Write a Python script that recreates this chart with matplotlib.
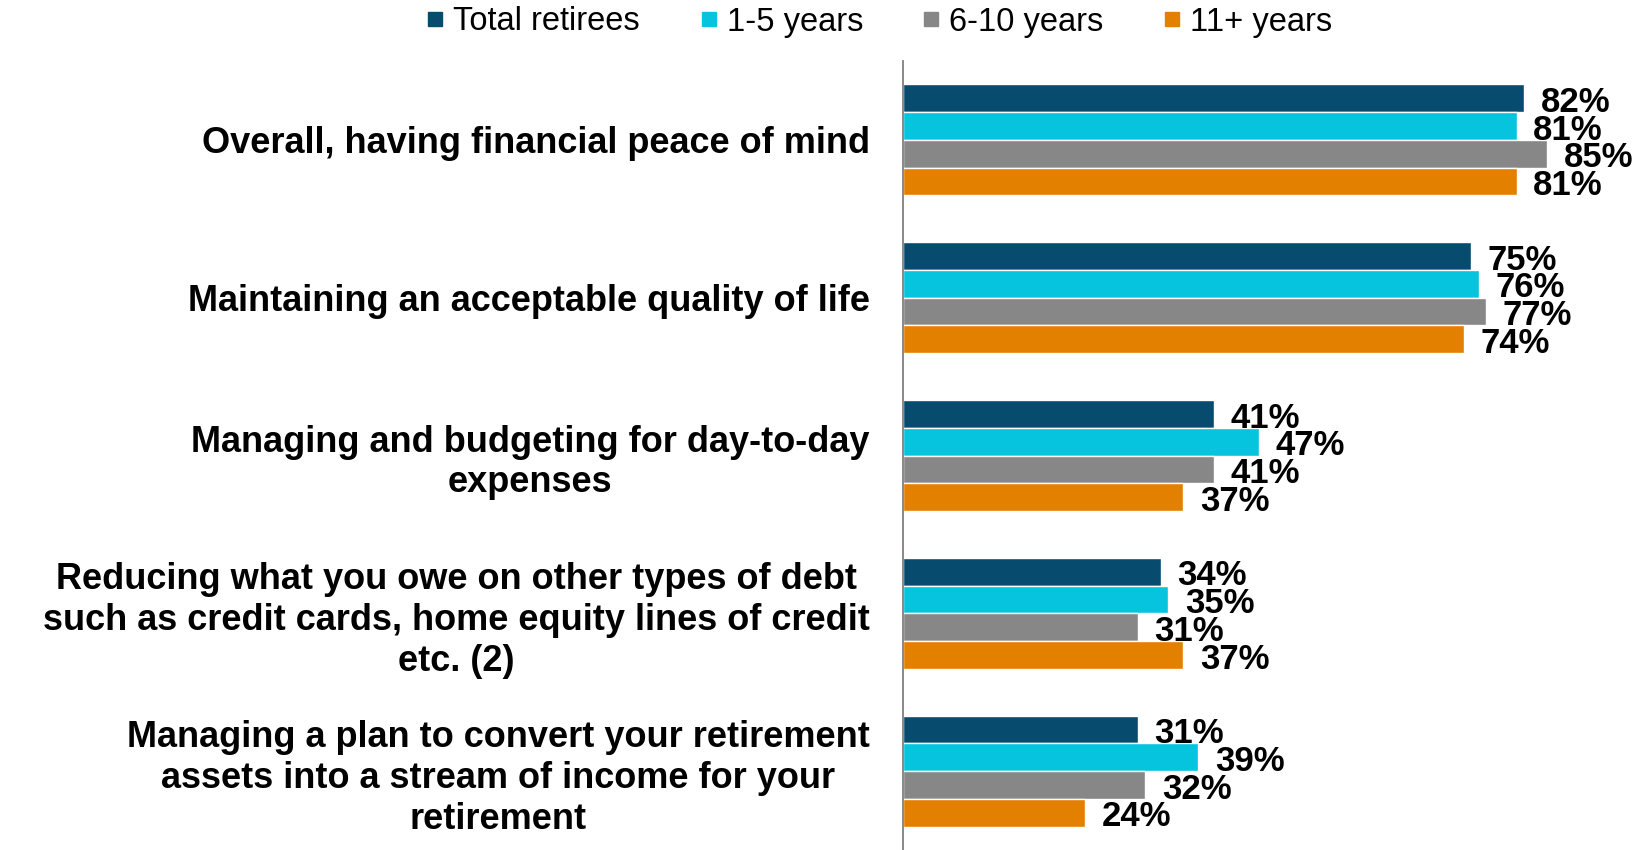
import matplotlib.pyplot as plt
import numpy as np

plt.rcParams["font.family"] = ["Liberation Sans", "DejaVu Sans"]

CATEGORIES = [
    "Overall, having financial peace of mind",
    "Maintaining an acceptable quality of life",
    "Managing and budgeting for day-to-day\nexpenses",
    "Reducing what you owe on other types of debt\nsuch as credit cards, home equity lines of credit\netc. (2)",
    "Managing a plan to convert your retirement\nassets into a stream of income for your\nretirement",
]
SERIES = ["Total retirees", "1-5 years", "6-10 years", "11+ years"]
TOTAL = [82, 75, 41, 34, 31]
YEARS_1_5 = [81, 76, 47, 35, 39]
YEARS_6_10 = [85, 77, 41, 31, 32]
YEARS_11P = [81, 74, 37, 37, 24]
COLORS = ["#074C6E", "#06C3DE", "#878787", "#E38000"]

values = [TOTAL, YEARS_1_5, YEARS_6_10, YEARS_11P]

fig = plt.figure(figsize=(16.4, 8.5), dpi=100)
ax = fig.add_axes([903 / 1640, 0.0, 1 - 903 / 1640, 1 - 61 / 850])

y = np.arange(len(CATEGORIES))
h = 0.176
for i, (name, vals, col) in enumerate(zip(SERIES, values, COLORS)):
    pos = y + (i - 1.5) * h
    bars = ax.barh(pos, vals, height=h, color=col, edgecolor="white",
                   linewidth=1, label=name)
    for b, v in zip(bars, vals):
        ax.annotate(f"{v}%", (v, b.get_y() + b.get_height() / 2),
                    xytext=(12, -3), textcoords="offset points",
                    ha="left", va="center", fontsize=25, fontweight="bold")

ax.set_ylim(len(CATEGORIES) - 0.5, -0.5)
ax.set_xlim(0, 97.3)
ax.set_yticks(y)
ax.set_yticklabels(CATEGORIES, fontsize=26, fontweight="bold",
                   multialignment="center", linespacing=1.22)
ax.tick_params(axis="y", length=0, pad=24)
ax.set_xticks([])
for s in ["top", "right", "bottom"]:
    ax.spines[s].set_visible(False)
ax.spines["left"].set_color("#808080")
ax.spines["left"].set_linewidth(1.3)

handles = [plt.Line2D([], [], marker="s", linestyle="none", color=c,
                      markersize=10) for c in COLORS]
fig.legend(handles, SERIES, loc="center", bbox_to_anchor=(879 / 1640, 1 - 22 / 850),
           ncol=4, frameon=False, fontsize=23.5, handletextpad=0.25,
           columnspacing=1.8, handlelength=0.6)

fig.savefig("out.png", dpi=100)
